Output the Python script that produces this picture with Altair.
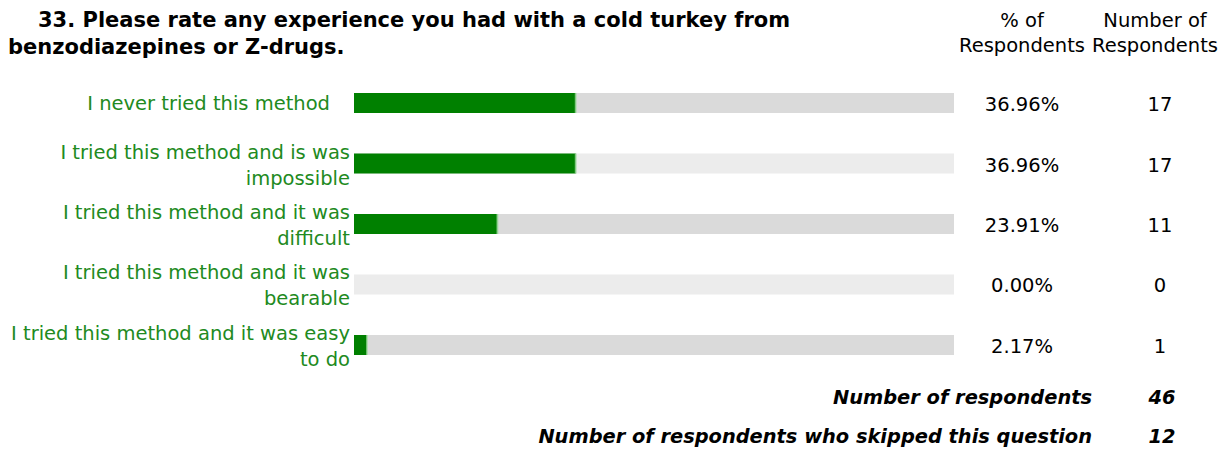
import altair as alt
import pandas as pd

categories = [
    "I never tried this method",
    "I tried this method and is was impossible",
    "I tried this method and it was difficult",
    "I tried this method and it was bearable",
    "I tried this method and it was easy to do",
]
label_line1 = [
    "I never tried this method",
    "I tried this method and is was",
    "I tried this method and it was",
    "I tried this method and it was",
    "I tried this method and it was easy",
]
label_line2 = ["", "impossible", "difficult", "bearable", "to do"]
percents = [36.96, 36.96, 23.91, 0.00, 2.17]
counts = [17, 17, 11, 0, 1]
row_shade = ["dark", "light", "dark", "light", "dark"]

title_lines = ["33. Please rate any experience you had with a cold turkey from",
               "benzodiazepines or Z-drugs."]
col_headers = [["% of", "Respondents"], ["Number of", "Respondents"]]
footer_labels = ["Number of respondents", "Number of respondents who skipped this question"]
footer_values = ["46", "12"]

FONT = "DejaVu Sans"
FS = 19.5
W, H = 1211, 440

df = pd.DataFrame({
    "cat": categories,
    "l1": label_line1,
    "l2": label_line2,
    "pct": percents,
    "count": counts,
    "shade": row_shade,
    "full": [100] * len(categories),
    "pct_label": [f"{p:.2f}%" for p in percents],
    "count_label": [str(c) for c in counts],
})

x_scale = alt.Scale(domain=[0, 100], range=[346, 946])
y_scale = alt.Scale(domain=categories, range=[85, 347], paddingInner=0.669, paddingOuter=0)
Y = alt.Y("cat:N", scale=y_scale, axis=None, sort=categories)

base = alt.Chart(df)

bg = base.mark_bar().encode(
    x=alt.X("full:Q", scale=x_scale, axis=None),
    y=Y,
    color=alt.Color("shade:N", scale=alt.Scale(domain=["dark", "light"], range=["#dadada", "#ececec"]), legend=None),
)

fg = base.mark_bar(color="#008000").encode(
    x=alt.X("pct:Q", scale=x_scale, axis=None),
    y=Y,
)

edge = base.transform_filter("datum.pct > 0").mark_tick(
    color="#9fdc9f", thickness=2, size=20, orient="vertical"
).encode(
    x=alt.X("pct:Q", scale=x_scale, axis=None),
    y=Y,
)

txt = dict(baseline="middle", font=FONT, fontSize=FS)

single = base.transform_filter("datum.l2 == ''").mark_text(
    align="right", color="#218a21", dx=-20, dy=1, **txt).encode(
    x=alt.value(342), y=Y, text="l1:N")
first = base.transform_filter("datum.l2 != ''").mark_text(
    align="right", color="#218a21", dy=-11, **txt).encode(
    x=alt.value(342), y=Y, text="l1:N")
second = base.transform_filter("datum.l2 != ''").mark_text(
    align="right", color="#218a21", dy=15, **txt).encode(
    x=alt.value(342), y=Y, text="l2:N")

pct_text = base.mark_text(align="center", color="#000000", dy=2, **txt).encode(
    x=alt.value(1014), y=Y, text="pct_label:N")
cnt_text = base.mark_text(align="center", color="#000000", dy=2, **txt).encode(
    x=alt.value(1152), y=Y, text="count_label:N")

title_df = pd.DataFrame({"t": title_lines})
tstyle = dict(align="left", baseline="middle", font=FONT, fontSize=21, fontWeight="bold", color="#000")
title1 = alt.Chart(title_df.iloc[[0]]).mark_text(**tstyle).encode(
    x=alt.value(30), y=alt.value(13), text="t:N")
title2 = alt.Chart(title_df.iloc[[1]]).mark_text(**tstyle).encode(
    x=alt.value(0), y=alt.value(40), text="t:N")

hdr_df = pd.DataFrame({"t": ["\n".join(col_headers[0]), "\n".join(col_headers[1])]})
hstyle = dict(align="center", baseline="middle", font=FONT, fontSize=FS, color="#000",
              lineBreak="\n", lineHeight=25)
hdr1 = alt.Chart(hdr_df.iloc[[0]]).mark_text(**hstyle).encode(
    x=alt.value(1014), y=alt.value(13), text="t:N")
hdr2 = alt.Chart(hdr_df.iloc[[1]]).mark_text(**hstyle).encode(
    x=alt.value(1147), y=alt.value(13), text="t:N")

foot_df = pd.DataFrame({"l": footer_labels, "v": footer_values})
fstyle = dict(baseline="middle", font=FONT, fontSize=19.4, fontWeight="bold",
              fontStyle="italic", color="#000")
foot_layers = []
for i, yv in enumerate([390, 429]):
    sub = alt.Chart(foot_df.iloc[[i]])
    foot_layers.append(sub.mark_text(align="right", **fstyle).encode(
        x=alt.value(1084), y=alt.value(yv), text="l:N"))
    foot_layers.append(sub.mark_text(align="center", **fstyle).encode(
        x=alt.value(1154), y=alt.value(yv), text="v:N"))

chart = alt.layer(bg, fg, edge, single, first, second, pct_text, cnt_text,
                  title1, title2, hdr1, hdr2, *foot_layers).properties(
    width=W, height=H, padding=0, autosize=alt.AutoSizeParams(type="none"), background="white"
).configure_view(stroke=None)

chart.save("out.html", embed_options={"renderer": "svg", "actions": False})
